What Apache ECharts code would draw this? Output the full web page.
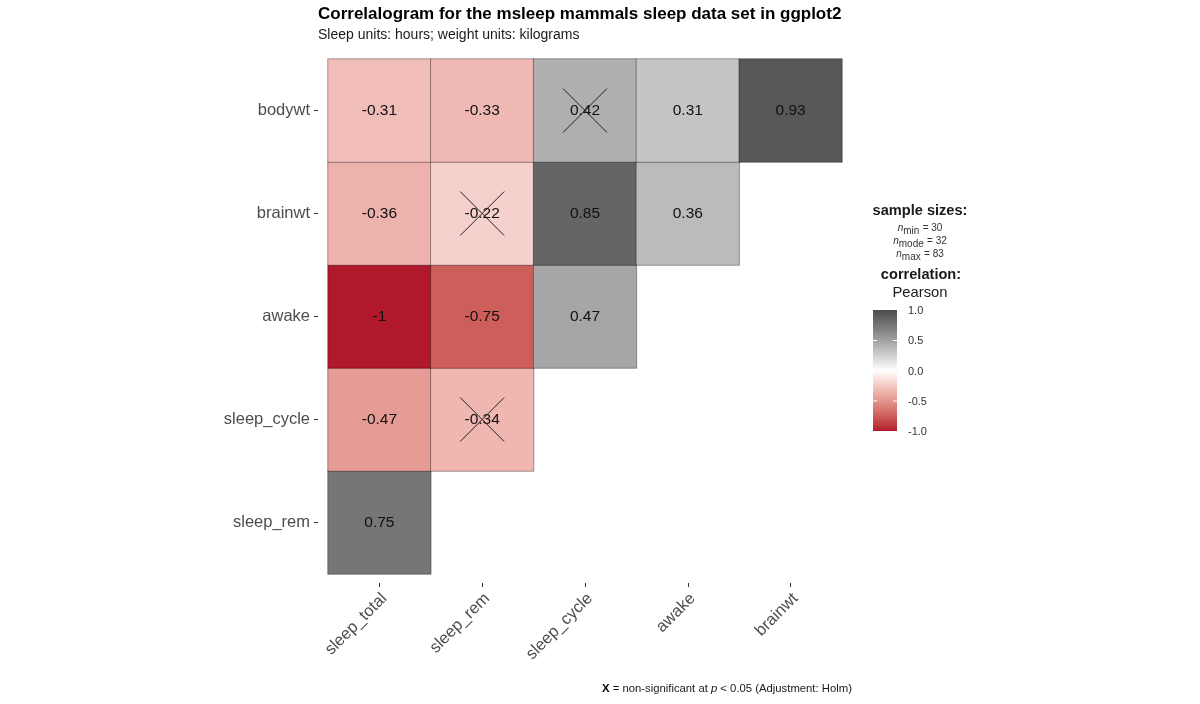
<!DOCTYPE html>
<html>
<head>
<meta charset="utf-8">
<script src="https://cdn.jsdelivr.net/npm/echarts@6/dist/echarts.min.js"></script>
<style>
html,body{margin:0;padding:0;background:#fff;}
#chart{width:1200px;height:704px;}
</style>
</head>
<body>
<div id="chart"></div>
<script>
// Categories
const xCats = ['sleep_total', 'sleep_rem', 'sleep_cycle', 'awake', 'brainwt'];
const yCats = ['sleep_rem', 'sleep_cycle', 'awake', 'brainwt', 'bodywt']; // bottom to top

// Correlation rows (values against xCats, in order)
const bodywt = [-0.31, -0.33, 0.42, 0.31, 0.93];
const brainwt = [-0.36, -0.22, 0.85, 0.36];
const awake = [-1, -0.75, 0.47];
const sleep_cycle = [-0.47, -0.34];
const sleep_rem = [0.75];

// Non-significant pairs [x, y]
const nonSignificant = [['sleep_cycle', 'bodywt'], ['sleep_rem', 'brainwt'], ['sleep_rem', 'sleep_cycle']];

// Legend tick labels
const legendTicks = ['1.0', '0.5', '0.0', '-0.5', '-1.0'];

const rows = { bodywt, brainwt, awake, sleep_cycle, sleep_rem };
const heatData = [];
yCats.forEach(function (yc) {
  rows[yc].forEach(function (v, i) { heatData.push([xCats[i], yc, v]); });
});

// --- colour scale: Lab interpolation (like ggplot's gradient2) ---
function hex2rgb(h) { return [parseInt(h.slice(1, 3), 16), parseInt(h.slice(3, 5), 16), parseInt(h.slice(5, 7), 16)]; }
function toLin(c) { c /= 255; return c <= 0.04045 ? c / 12.92 : Math.pow((c + 0.055) / 1.055, 2.4); }
function fromLin(c) { c = c <= 0.0031308 ? 12.92 * c : 1.055 * Math.pow(c, 1 / 2.4) - 0.055; return Math.max(0, Math.min(255, Math.round(c * 255))); }
const WX = 0.95047, WY = 1, WZ = 1.08883;
function f(t) { return t > 0.008856 ? Math.cbrt(t) : 7.787 * t + 16 / 116; }
function fi(t) { return t > 0.206893 ? t * t * t : (t - 16 / 116) / 7.787; }
function rgb2lab(rgb) {
  const r = toLin(rgb[0]), g = toLin(rgb[1]), b = toLin(rgb[2]);
  const x = (r * 0.4124 + g * 0.3576 + b * 0.1805) / WX;
  const y = (r * 0.2126 + g * 0.7152 + b * 0.0722) / WY;
  const z = (r * 0.0193 + g * 0.1192 + b * 0.9505) / WZ;
  const fx = f(x), fy = f(y), fz = f(z);
  return [116 * fy - 16, 500 * (fx - fy), 200 * (fy - fz)];
}
function lab2hex(lab) {
  const fy = (lab[0] + 16) / 116, fx = fy + lab[1] / 500, fz = fy - lab[2] / 200;
  const x = fi(fx) * WX, y = fi(fy) * WY, z = fi(fz) * WZ;
  const r = x * 3.2406 + y * -1.5372 + z * -0.4986;
  const g = x * -0.9689 + y * 1.8758 + z * 0.0415;
  const b = x * 0.0557 + y * -0.2040 + z * 1.0570;
  return '#' + [r, g, b].map(function (c) { return ('0' + fromLin(c).toString(16)).slice(-2); }).join('');
}
const LOW = '#B2182B', MID = '#FFFFFF', HIGH = '#4D4D4D';
const labLow = rgb2lab(hex2rgb(LOW)), labMid = rgb2lab(hex2rgb(MID)), labHigh = rgb2lab(hex2rgb(HIGH));
const scaleColors = [];
const NSTOP = 40;
for (let i = 0; i <= NSTOP; i++) {
  const v = -1 + 2 * i / NSTOP;
  let a, b, t;
  if (v < 0) { a = labMid; b = labLow; t = -v; } else { a = labMid; b = labHigh; t = v; }
  scaleColors.push(lab2hex([a[0] + (b[0] - a[0]) * t, a[1] + (b[1] - a[1]) * t, a[2] + (b[2] - a[2]) * t]));
}
const gradStops = scaleColors.map(function (c, i) { return { offset: 1 - i / NSTOP, color: c }; }).reverse();

const FONT = '"Liberation Sans", Arial, Helvetica, sans-serif';
const chart = echarts.init(document.getElementById('chart'));

const nRich = {
  i: { fontStyle: 'italic', fontSize: 10, fontFamily: FONT, fill: '#333' },
  s: { fontSize: 10, fontFamily: FONT, fill: '#333', padding: [6, 0, 0, 0] },
  t: { fontSize: 10, fontFamily: FONT, fill: '#333' }
};

const graphics = [
  { type: 'text', left: 318, top: 6, style: { text: 'Correlalogram for the msleep mammals sleep data set in ggplot2', font: 'bold 17px ' + FONT, fill: '#000' } },
  { type: 'text', left: 318, top: 28, style: { text: 'Sleep units: hours; weight units: kilograms', font: '14px ' + FONT, fill: '#1a1a1a' } },
  { type: 'text', x: 920, y: 211, style: { text: 'sample sizes:', font: 'bold 14.6px ' + FONT, fill: '#1a1a1a', align: 'center', verticalAlign: 'middle' } },
  { type: 'text', x: 920, y: 228, style: { text: '{i|n}{s|min} {t|= 30}', align: 'center', verticalAlign: 'middle', rich: nRich } },
  { type: 'text', x: 920, y: 241, style: { text: '{i|n}{s|mode} {t|= 32}', align: 'center', verticalAlign: 'middle', rich: nRich } },
  { type: 'text', x: 920, y: 254, style: { text: '{i|n}{s|max} {t|= 83}', align: 'center', verticalAlign: 'middle', rich: nRich } },
  { type: 'text', x: 921, y: 275, style: { text: 'correlation:', font: 'bold 14.6px ' + FONT, fill: '#1a1a1a', align: 'center', verticalAlign: 'middle' } },
  { type: 'text', x: 920, y: 293, style: { text: 'Pearson', font: '14.8px ' + FONT, fill: '#1a1a1a', align: 'center', verticalAlign: 'middle' } },
  { type: 'rect', shape: { x: 873, y: 310, width: 24, height: 121 }, style: { fill: new echarts.graphic.LinearGradient(0, 0, 0, 1, gradStops) } },
  { type: 'line', shape: { x1: 873, y1: 340.5, x2: 877, y2: 340.5 }, style: { stroke: '#fff', lineWidth: 1 } },
  { type: 'line', shape: { x1: 893, y1: 340.5, x2: 897, y2: 340.5 }, style: { stroke: '#fff', lineWidth: 1 } },
  { type: 'line', shape: { x1: 873, y1: 401, x2: 877, y2: 401 }, style: { stroke: '#fff', lineWidth: 1 } },
  { type: 'line', shape: { x1: 893, y1: 401, x2: 897, y2: 401 }, style: { stroke: '#fff', lineWidth: 1 } },
  { type: 'text', left: 602, top: 683, style: { text: '{b|X} = non-significant at {i|p} < 0.05 (Adjustment: Holm)', rich: { b: { fontWeight: 'bold', fontSize: 11.3, fontFamily: FONT, fill: '#000' }, i: { fontStyle: 'italic', fontSize: 11.3, fontFamily: FONT, fill: '#1a1a1a' } }, font: '11.3px ' + FONT, fill: '#1a1a1a' } }
];
legendTicks.forEach(function (t, i) {
  graphics.push({ type: 'text', x: 908, y: 311 + i * 30.25, style: { text: t, font: '11px ' + FONT, fill: '#333', verticalAlign: 'middle' } });
});

chart.setOption({
  backgroundColor: '#fff',
  animation: false,
  grid: { left: 328, right: 358, top: 59, bottom: 130 },
  xAxis: {
    type: 'category', data: xCats, offset: 9,
    axisLine: { show: false },
    axisTick: { show: true, alignWithLabel: true, length: 4, lineStyle: { color: '#333' } },
    axisLabel: {
      rotate: 45, margin: 8,
      formatter: function (v) { return '{sp|}\n{t|' + v + '}'; },
      rich: {
        sp: { lineHeight: 14, fontSize: 10 },
        t: { fontSize: 16.5, color: '#4D4D4D', fontFamily: FONT, lineHeight: 19 }
      }
    },
    splitLine: { show: false }
  },
  yAxis: {
    type: 'category', data: yCats, offset: 10,
    axisLine: { show: false },
    axisTick: { show: true, alignWithLabel: true, length: 4, lineStyle: { color: '#333' } },
    axisLabel: { fontSize: 16.5, color: '#4D4D4D', fontFamily: FONT, margin: 8 },
    splitLine: { show: false }
  },
  visualMap: {
    show: false, min: -1, max: 1, dimension: 2, seriesIndex: 0,
    inRange: { color: scaleColors }
  },
  series: [
    {
      type: 'heatmap', data: heatData,
      itemStyle: { borderColor: 'rgba(0,0,0,0.35)', borderWidth: 1 },
      label: { show: true, fontSize: 15.5, color: '#111', fontFamily: FONT, formatter: function (p) { return String(p.value[2]); } },
      z: 2
    },
    {
      type: 'custom', data: nonSignificant, z: 5,
      renderItem: function (params, api) {
        const c = api.coord([api.value(0), api.value(1)]);
        const h = 22;
        return { type: 'group', children: [
          { type: 'line', shape: { x1: c[0] - h, y1: c[1] - h, x2: c[0] + h, y2: c[1] + h }, style: { stroke: '#222', lineWidth: 1 } },
          { type: 'line', shape: { x1: c[0] - h, y1: c[1] + h, x2: c[0] + h, y2: c[1] - h }, style: { stroke: '#222', lineWidth: 1 } }
        ] };
      }
    }
  ],
  graphic: graphics
});
</script>
</body>
</html>
